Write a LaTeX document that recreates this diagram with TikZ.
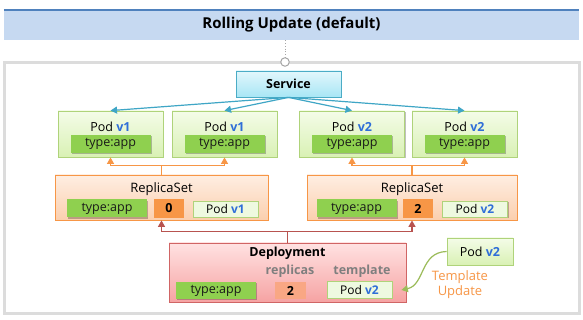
\documentclass[tikz,border=0pt]{standalone}
\usepackage{fontspec}
\setmainfont{Open Sans}
\usetikzlibrary{arrows.meta,calc,shadows}
\definecolor{bandfill}{HTML}{C6D9F1}
\definecolor{bandline}{HTML}{4F81BD}
\definecolor{framegray}{HTML}{DCDCDC}
\definecolor{knobgray}{HTML}{A6A6A6}
\definecolor{svctop}{HTML}{E2F7FC}
\definecolor{svcbot}{HTML}{A8E6F5}
\definecolor{svcline}{HTML}{4BACC6}
\definecolor{podtop}{HTML}{F4FCE8}
\definecolor{podbot}{HTML}{D9F1B4}
\definecolor{podline}{HTML}{AFD37A}
\definecolor{typegreen}{HTML}{8FD04F}
\definecolor{rstop}{HTML}{FEEEE2}
\definecolor{rsbot}{HTML}{FBCFAE}
\definecolor{rsline}{HTML}{F79646}
\definecolor{orangebox}{HTML}{F79646}
\definecolor{smallpod}{HTML}{EEF9E0}
\definecolor{deptop}{HTML}{FFE2E2}
\definecolor{depbot}{HTML}{F6A3A3}
\definecolor{depline}{HTML}{D06565}
\definecolor{salmon}{HTML}{F9A784}
\definecolor{greytext}{HTML}{7F7F7F}
\definecolor{vblue}{HTML}{2F6ED8}
\definecolor{bluearrow}{HTML}{3FA6C6}
\definecolor{redarrow}{HTML}{B85450}
\definecolor{greenarrow}{HTML}{9BBB59}
\newcommand{\vtag}[1]{\textbf{\color{vblue}#1}}
\tikzset{
  box/.style={draw, line width=0.8pt, inner sep=0pt, anchor=center},
  shad/.style={drop shadow={shadow xshift=1.2pt, shadow yshift=-1.2pt, opacity=0.25, fill=black}},
  svcbox/.style={box, shad, draw=svcline, top color=svctop, bottom color=svcbot, minimum width=105pt, minimum height=26pt, font=\fontsize{12.5}{14}\selectfont\bfseries},
  podbox/.style={box, shad, draw=podline, top color=podtop, bottom color=podbot, minimum width=105pt, minimum height=46pt},
  typebox/.style={box, shad, draw=none, fill=typegreen, minimum width=80pt, minimum height=18pt, font=\fontsize{12.5}{14}\selectfont, text=black!90},
  rsbox/.style={box, shad, draw=rsline, top color=rstop, bottom color=rsbot, minimum height=45pt},
  numbox/.style={box, draw=none, fill=orangebox, minimum width=30pt, minimum height=19pt, font=\fontsize{12.5}{14}\selectfont\bfseries},
  spod/.style={box, shad, draw=podline, fill=smallpod, minimum width=65pt, minimum height=16pt, font=\fontsize{12}{14}\selectfont},
  depbox/.style={box, shad, draw=depline, top color=deptop, bottom color=depbot, minimum width=237pt, minimum height=59pt},
  lbl/.style={inner sep=0pt, anchor=center, font=\fontsize{12}{14}\selectfont},
  tip/.style={-{Triangle[width=7pt,length=6.5pt]}},
  blue arrow/.style={draw=bluearrow, line width=1.2pt, tip},
  orange arrow/.style={draw=rsline, line width=1.2pt, tip},
  red arrow/.style={draw=redarrow, line width=1.2pt, tip},
  green arrow/.style={draw=greenarrow, line width=1.2pt, tip},
}
\begin{document}
\begin{tikzpicture}[x=1pt, y=-1pt]
\useasboundingbox (0,0) rectangle (583,320);
% title band
\node[inner sep=0pt, fill=bandfill, minimum width=575pt, minimum height=30pt, anchor=center,
      font=\fontsize{15}{18}\selectfont\bfseries] (title) at (291.5,25) {Rolling Update (default)};
\draw[bandline, line width=1.6pt] (title.north west) -- (title.north east);
% frame
\node[draw=framegray, line width=2.5pt, fill=white, minimum width=575pt, minimum height=251pt, inner sep=0pt] (frame) at (292,188) {};
% knob
\node[circle, draw=knobgray, fill=white, line width=1pt, minimum size=8.5pt, inner sep=0pt] (knob) at (285,62) {};
\draw[knobgray, line width=0.8pt, dotted] (knob |- title.south) -- (knob.north);
% service
\node[svcbox] (svc) at (288.5,84) {Service};
% pods
\foreach \n/\x/\v in {p1/110.5/v1, p2/224.5/v1, p3/352/v2, p4/464.5/v2}{
  \node[podbox] (\n) at (\x,134) {};
  \node[lbl, font=\fontsize{12.5}{14}\selectfont] (\n l) at ($(\n.center)+(0,-7)$) {Pod \vtag{\v}};
  \node[typebox] (\n t) at ($(\n.center)+(0,10)$) {type:app};
}
% replica sets
\node[rsbox, minimum width=213pt] (rs1) at (161.5,197.5) {};
\node[lbl, font=\fontsize{13}{14}\selectfont] (rs1l) at (161.5,189) {ReplicaSet};
\node[typebox] (rs1t) at (107,208.5) {type:app};
\node[numbox] (rs1n) at (169,208.5) {0};
\node[spod] (rs1p) at (225.5,209) {Pod \vtag{v1}};
\node[rsbox, minimum width=210pt] (rs2) at (412,197.5) {};
\node[lbl, font=\fontsize{13}{14}\selectfont] (rs2l) at (412,189) {ReplicaSet};
\node[typebox] (rs2t) at (356.5,208.5) {type:app};
\node[numbox] (rs2n) at (418,208.5) {2};
\node[spod] (rs2p) at (475,209) {Pod \vtag{v2}};
% deployment
\node[depbox] (dep) at (287.5,272.5) {};
\node[lbl, font=\fontsize{12.5}{14}\selectfont\bfseries] (depl) at (287.5,253) {Deployment};
\node[lbl, font=\fontsize{12.5}{14}\selectfont\bfseries, text=greytext] (repl) at (290,271) {replicas};
\node[lbl, font=\fontsize{12.5}{14}\selectfont\bfseries, text=greytext] (tmpl) at (362,271) {template};
\node[typebox, minimum height=17pt] (dept) at (216,290.5) {type:app};
\node[numbox, fill=salmon, minimum width=31pt, minimum height=17pt] (depn) at (290.5,290.5) {2};
\node[spod, minimum height=17pt] (depp) at (359.5,289.5) {Pod \vtag{v2}};
% new pod template
\node[spod, minimum width=66pt, minimum height=27pt, top color=podtop, bottom color=podbot, font=\fontsize{12.5}{14}\selectfont] (newpod) at (480,251.5) {Pod \vtag{v2}};
\node[lbl, align=center, text=rsline, font=\fontsize{13}{15}\selectfont] (tu) at (460,284.5) {Template\\Update};
% connectors: service -> pods
\foreach \n in {p1,p2,p3,p4}{
  \draw[blue arrow] (svc.south) -- (\n.north);
}
% replica sets -> pods
\coordinate (j1) at ($(rs1.north)+(0,-9)$);
\draw[orange arrow] (rs1.north) -- (j1) -| (p1.south);
\draw[orange arrow] (j1) -| (p2.south);
\coordinate (j2) at ($(rs2.north)+(0,-9)$);
\draw[orange arrow] (rs2.north) -- (j2) -| (p3.south);
\draw[orange arrow] (j2) -| (p4.south);
% deployment -> replica sets
\coordinate (jd) at ($(dep.north)+(0,-11)$);
\draw[red arrow] (dep.north) -- (jd) -| (rs1.south);
\draw[red arrow] (jd) -| (rs2.south);
% template update curve
\coordinate (tend) at ($(depp.east)+(9,0.5)$);
\draw[green arrow] (newpod.west) .. controls (420,252) and (425,285) .. (tend);
\end{tikzpicture}
\end{document}
